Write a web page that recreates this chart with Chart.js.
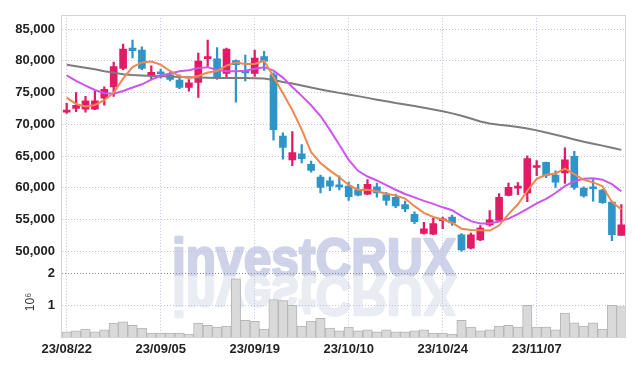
<!DOCTYPE html>
<html>
<head>
<meta charset="utf-8">
<script src="https://cdn.jsdelivr.net/npm/chart.js@4.4.0/dist/chart.umd.min.js"></script>
<style>
  html, body { margin: 0; padding: 0; background: #fff; }
  #wrap { width: 634px; height: 366px; position: relative; }
</style>
</head>
<body>
<div id="wrap"><canvas id="chart"></canvas></div>
<script>
const dates = [
  "23/08/22", "23/08/23", "23/08/24", "23/08/25", "23/08/28", "23/08/29", "23/08/30", "23/08/31", "23/09/01", "23/09/04",
  "23/09/05", "23/09/06", "23/09/07", "23/09/08", "23/09/11", "23/09/12", "23/09/13", "23/09/14", "23/09/15", "23/09/18",
  "23/09/19", "23/09/20", "23/09/21", "23/09/22", "23/09/25", "23/09/26", "23/09/27", "23/10/04", "23/10/05", "23/10/06",
  "23/10/10", "23/10/11", "23/10/12", "23/10/13", "23/10/16", "23/10/17", "23/10/18", "23/10/19", "23/10/20", "23/10/23",
  "23/10/24", "23/10/25", "23/10/26", "23/10/27", "23/10/30", "23/10/31", "23/11/01", "23/11/02", "23/11/03", "23/11/06",
  "23/11/07", "23/11/08", "23/11/09", "23/11/10", "23/11/13", "23/11/14", "23/11/15", "23/11/16", "23/11/17", "23/11/20"
];

const opens = [
  71900, 72500, 72400, 72400, 74100, 75900, 78800, 82000, 81700, 77650,
  78100, 77800, 76950, 75800, 76600, 80350, 80300, 78000, 80050, 78300,
  78000, 80650, 77850, 68150, 64400, 65350, 63700, 61700, 61100, 60350,
  60250, 59700, 59000, 60150, 58900, 58500, 57350, 55800, 52800, 52700,
  54800, 55400, 52600, 50500, 51800, 54150, 54850, 58800, 59950, 59200,
  63200, 64000, 62000, 62350, 64950, 59950, 60050, 59650, 57750, 52500
];
const highs = [
  73300, 75000, 74400, 75300, 75900, 79800, 82650, 83250, 82200, 79200,
  78700, 78300, 77800, 77050, 81200, 83250, 82100, 82000, 80150, 80900,
  81700, 81500, 78100, 68650, 68850, 66800, 64200, 62000, 61700, 61900,
  60900, 60550, 61300, 60750, 59300, 59000, 57900, 56200, 54550, 55200,
  55400, 55700, 52800, 52850, 54050, 56400, 59100, 60750, 60800, 65050,
  64300, 64050, 62650, 66300, 65750, 60150, 61300, 59750, 57900, 57350
];
const lows = [
  71700, 72000, 71900, 72300, 73000, 74400, 78600, 80450, 78600, 77150,
  77250, 76850, 75600, 75200, 74250, 79100, 77050, 77250, 73500, 76850,
  77550, 78500, 67500, 64500, 63500, 63900, 62450, 59200, 59550, 59650,
  58000, 58700, 58900, 58500, 57250, 56850, 56250, 54350, 52700, 52600,
  53550, 54050, 50000, 50350, 51650, 53950, 54650, 58700, 58900, 57800,
  61900, 61600, 60050, 60700, 59750, 58500, 57900, 57550, 51650, 52500
];
const closes = [
  72250, 73000, 73700, 73700, 75500, 79100, 81850, 81600, 78800, 78200,
  77950, 77050, 75800, 76550, 79950, 80650, 77250, 81850, 79400, 78100,
  80450, 79950, 69150, 66350, 65550, 64600, 62750, 60050, 60250, 60150,
  58600, 58850, 60550, 59200, 58000, 57150, 56650, 54650, 53550, 54350,
  55050, 54450, 50200, 52600, 53650, 54950, 58500, 60050, 60250, 64600,
  63450, 61950, 60900, 64400, 60050, 58700, 59850, 57650, 52600, 54150
];
const volumes = [
  165000, 195000, 250000, 165000, 225000, 435000, 475000, 370000, 280000, 125000,
  125000, 125000, 125000, 95000, 435000, 370000, 310000, 340000, 1830000, 525000,
  495000, 250000, 1175000, 1145000, 1000000, 340000, 505000, 590000, 280000, 195000,
  310000, 195000, 225000, 165000, 225000, 165000, 165000, 195000, 225000, 125000,
  125000, 95000, 525000, 310000, 195000, 225000, 340000, 370000, 310000, 1000000,
  310000, 310000, 225000, 750000, 445000, 340000, 445000, 250000, 1000000, 960000
];
const ma5 = [
  74200, 73200, 72800, 73050, 73800, 75000, 77200, 79000, 79750, 79900,
  79400, 78400, 77560, 77300, 77600, 78150, 78400, 79250, 79750, 79500,
  79500, 80000, 77500, 74900, 72250, 69150, 65600, 63900, 62700, 61650,
  60450, 59650, 59700, 59450, 59050, 58800, 58300, 57100, 56050, 55400,
  55000, 54500, 53550, 53350, 53300, 53250, 54050, 55850, 57400, 59500,
  61400, 62050, 62250, 63000, 62150, 61250, 60850, 60250, 57770, 56600
];
const ma10 = [
  77700, 76850, 76100, 75400, 74900, 74800, 75250, 75800, 76300, 77050,
  77650, 78000, 78350, 78500, 78850, 79000, 78550, 78370, 78340, 78450,
  78760, 79000, 78450, 77360, 75880, 74480, 73000, 71300, 69120, 66790,
  64380, 62670, 61770, 61150, 60420, 59690, 59020, 58480, 57930, 57470,
  56920, 56460, 55530, 54750, 54360, 54390, 54670, 55140, 55840, 56690,
  57550, 58240, 59180, 60260, 61040, 61430, 61510, 61270, 60580, 59440
];
const maLong = [
  79380, 79150, 78910, 78680, 78370, 78140, 77900, 77750, 77670, 77620,
  77580, 77510, 77470, 77420, 77360, 77330, 77300, 77280, 77280, 77280,
  77270, 77200, 76970, 76660, 76430, 76120, 75800, 75490, 75210, 74950,
  74690, 74440, 74160, 73880, 73630, 73350, 73130, 72880, 72620, 72340,
  72040, 71720, 71340, 70910, 70440, 70130, 69930, 69770, 69590, 69350,
  69040, 68700, 68340, 67990, 67610, 67260, 66950, 66640, 66320, 65970
];
const priceTicks = [50000, 55000, 60000, 65000, 70000, 75000, 80000, 85000];
const volumeTicks = [1000000, 2000000];
const labelEvery = 10;

const UP = "#e31b66";
const DOWN = "#2f95c8";
const GRID = "rgba(185,190,215,0.9)";
const FONT = "'Liberation Sans', Arial, sans-serif";

const candleColors = closes.map((c, i) => (c >= opens[i] ? UP : DOWN));

// watermark text with its mirrored reflection, under the grid
const watermark = {
  id: "watermark",
  beforeDraw(chart) {
    const ctx = chart.ctx;
    const text = "investCRUX";
    ctx.save();
    ctx.font = "bold 56px 'Liberation Sans', sans-serif";
    const w = ctx.measureText(text).width;
    ctx.translate(172, 277);
    ctx.scale(284 / w, 1);
    ctx.lineJoin = "round";
    ctx.lineWidth = 2.5;
    ctx.fillStyle = ctx.strokeStyle = "rgb(206,211,233)";
    ctx.fillText(text, 0, 0);
    ctx.strokeText(text, 0, 0);
    ctx.scale(1, -1);
    ctx.fillStyle = ctx.strokeStyle = "rgb(234,236,244)";
    ctx.fillText(text, 0, 0);
    ctx.strokeText(text, 0, 0);
    ctx.restore();
  },
};

const frame = {
  id: "frame",
  afterDatasetsDraw(chart) {
    const { ctx, chartArea: a } = chart;
    ctx.save();
    ctx.strokeStyle = "#d4d4d4";
    ctx.lineWidth = 1;
    ctx.strokeRect(Math.round(a.left) - 0.5, Math.round(a.top) + 0.5, Math.round(a.right - a.left), Math.round(a.bottom - a.top));
    ctx.restore();
  },
};

const lineSet = (label, data, color) => ({
  type: "line",
  label,
  data,
  yAxisID: "y",
  borderColor: color,
  borderWidth: 2,
  pointRadius: 0,
  tension: 0,
  order: 0,
});

new Chart(document.getElementById("chart"), {
  data: {
    labels: dates,
    datasets: [
      lineSet("MA5", ma5, "#f0874f"),
      lineSet("MA10", ma10, "#cc55ee"),
      lineSet("MA", maLong, "#7c7c7c"),
      {
        type: "bar",
        label: "body",
        data: opens.map((o, i) => [o, closes[i]]),
        yAxisID: "y",
        backgroundColor: candleColors,
        barThickness: 7,
        minBarLength: 2,
        grouped: false,
        order: 1,
      },
      {
        type: "bar",
        label: "wick",
        data: lows.map((l, i) => [l, highs[i]]),
        yAxisID: "y",
        backgroundColor: candleColors,
        barThickness: 1.6,
        grouped: false,
        order: 2,
      },
      {
        type: "bar",
        label: "volume",
        data: volumes,
        yAxisID: "yVol",
        backgroundColor: "#d9d9d9",
        borderColor: "#b5b5b5",
        borderWidth: 1,
        categoryPercentage: 1,
        barPercentage: 1,
        grouped: false,
        order: 3,
      },
    ],
  },
  options: {
    animation: false,
    responsive: true,
    maintainAspectRatio: false,
    layout: { padding: { left: 0, top: 9, right: 8, bottom: 9 } },
    plugins: { legend: { display: false }, tooltip: { enabled: false } },
    scales: {
      x: {
        type: "category",
        offset: true,
        grid: { offset: false, color: GRID, drawTicks: false },
        border: { display: false, dash: [1, 2] },
        afterBuildTicks: (scale) => {
          scale.ticks = scale.ticks.filter((t) => t.value % labelEvery === 0);
        },
        afterFit: (scale) => { scale.height = 20; },
        ticks: {
          autoSkip: false,
          maxRotation: 0,
          padding: 5,
          color: "#222",
          font: { family: FONT, size: 13, weight: "bold" },
          callback: (v) => dates[v],
        },
      },
      y: {
        position: "left",
        stack: "panes",
        stackWeight: 256.7,
        weight: 2,
        min: 47500,
        max: 87250,
        grid: { color: GRID, drawTicks: false },
        border: { display: false, dash: [1, 2] },
        afterBuildTicks: (scale) => { scale.ticks = priceTicks.map((v) => ({ value: v })); },
        afterFit: (scale) => { scale.width = 62; },
        ticks: {
          autoSkip: false,
          padding: 7,
          color: "#222",
          font: { family: FONT, size: 13, weight: "bold" },
          callback: (v) => v.toLocaleString("en-US"),
        },
      },
      yVol: {
        position: "left",
        stack: "panes",
        stackWeight: 71.1,
        weight: 1,
        min: 0,
        max: 2200000,
        grid: {
          drawTicks: false,
          color: (ctx) => (ctx.tick && ctx.tick.value === 2000000 ? "#8c8c8c" : GRID),
        },
        border: { display: false, dash: [1, 2] },
        afterBuildTicks: (scale) => { scale.ticks = volumeTicks.map((v) => ({ value: v })); },
        afterFit: (scale) => { scale.width = 62; },
        title: {
          display: true,
          text: "10\u2076",
          color: "#333",
          padding: { top: 23, bottom: 0 },
          font: { family: "'Liberation Sans', sans-serif", size: 12 },
        },
        ticks: {
          autoSkip: false,
          padding: 7,
          color: "#222",
          font: { family: FONT, size: 13, weight: "bold" },
          callback: (v) => String(v / 1000000),
        },
      },
    },
  },
  plugins: [watermark, frame],
});
</script>
</body>
</html>
